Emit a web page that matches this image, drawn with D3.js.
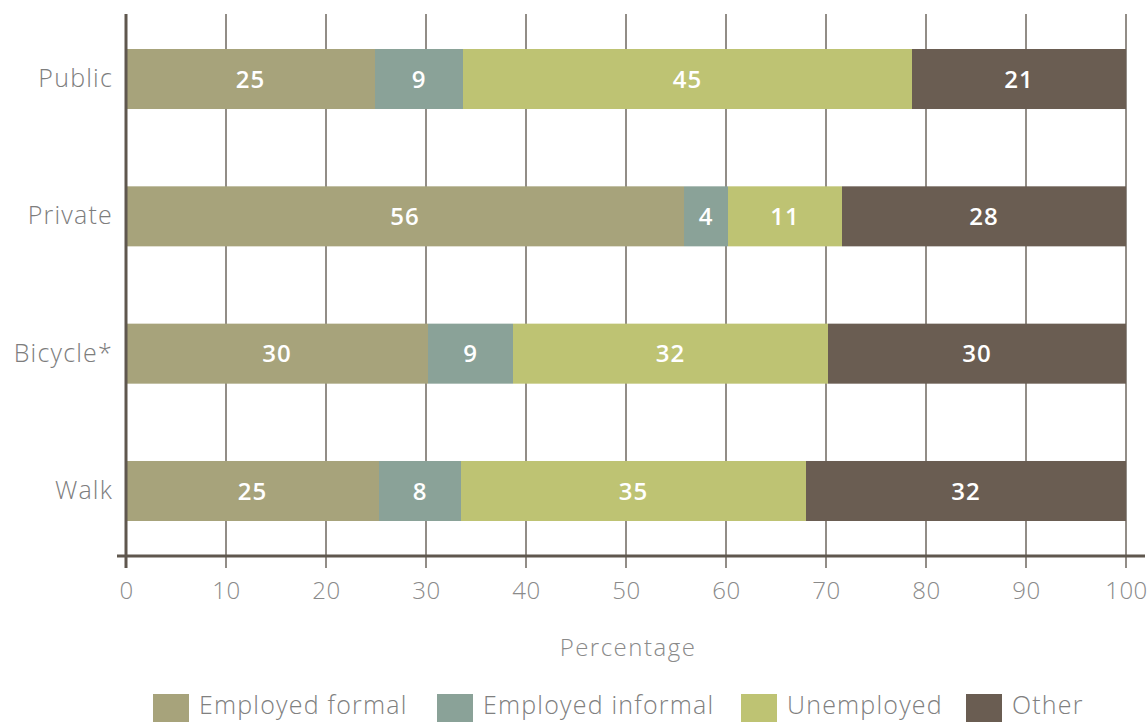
<!DOCTYPE html>
<html>
<head>
<meta charset="utf-8">
<script src="https://cdn.jsdelivr.net/npm/d3@7/dist/d3.min.js"></script>
<style>
  html, body { margin: 0; padding: 0; background: #ffffff; }
  svg { display: block; }
  text { font-family: "Open Sans", "Lato", "DejaVu Sans", sans-serif; }
</style>
</head>
<body>
<svg id="chart" width="1148" height="722"></svg>
<script>
// ---- data ----
const categories = ["Public", "Private", "Bicycle*", "Walk"];
const seriesNames = ["Employed formal", "Employed informal", "Unemployed", "Other"];
const employedFormal   = [24.9, 55.8, 30.2, 25.3];
const employedInformal = [8.8, 4.4, 8.5, 8.2];
const unemployed       = [44.9, 11.4, 31.5, 34.5];
const other            = [21.4, 28.4, 29.8, 32.0];
const xTicks = [0, 10, 20, 30, 40, 50, 60, 70, 80, 90, 100];
const xTitle = "Percentage";
const colors = ["#a7a37b", "#8aa298", "#bec373", "#6a5d52"];

// ---- build table ----
const seriesValues = [employedFormal, employedInformal, unemployed, other];
const rows = categories.map((c, i) => {
  const r = { cat: c };
  seriesNames.forEach((s, j) => { r[s] = seriesValues[j][i]; });
  return r;
});
const stacked = d3.stack().keys(seriesNames)(rows);

const svg = d3.select("#chart");
const x = d3.scaleLinear().domain([0, 100]).range([126, 1126]);
const y = d3.scaleBand().domain(categories).range([49, 521]).paddingInner(0.563).paddingOuter(0);
const color = d3.scaleOrdinal().domain(seriesNames).range(colors);

const gridTop = 14, gridBottom = 568, axisY = 556;

// gridlines
svg.append("g").selectAll("line").data(xTicks.filter(t => t !== 0)).join("line")
  .attr("x1", d => x(d)).attr("x2", d => x(d))
  .attr("y1", gridTop).attr("y2", gridBottom)
  .attr("stroke", "#6e675f").attr("stroke-width", 1.5);

// bars
const layers = svg.append("g").selectAll("g").data(stacked).join("g")
  .attr("fill", d => color(d.key));
layers.selectAll("rect").data(d => d).join("rect")
  .attr("x", d => x(d[0]))
  .attr("y", d => y(d.data.cat))
  .attr("width", d => x(d[1]) - x(d[0]))
  .attr("height", y.bandwidth());

// value labels
const labelG = svg.append("g");
stacked.forEach(layer => {
  labelG.selectAll(null).data(layer).join("text")
    .attr("x", d => (x(d[0]) + x(d[1])) / 2)
    .attr("y", d => y(d.data.cat) + y.bandwidth() / 2)
    .attr("dy", "0.36em")
    .attr("text-anchor", "middle")
    .attr("fill", "#ffffff")
    .attr("font-size", 24)
    .attr("font-weight", 600)
    .attr("letter-spacing", 1)
    .text(d => Math.round(d.data[layer.key]));
});

// y axis line
svg.append("line")
  .attr("x1", x(0)).attr("x2", x(0))
  .attr("y1", gridTop).attr("y2", gridBottom)
  .attr("stroke", "#5f574e").attr("stroke-width", 3);

// x axis line
svg.append("line")
  .attr("x1", 117).attr("x2", 1145)
  .attr("y1", axisY).attr("y2", axisY)
  .attr("stroke", "#5f574e").attr("stroke-width", 3);

// x tick labels
const xAxis = d3.axisBottom(x).tickValues(xTicks).tickSize(0).tickPadding(0);
const xg = svg.append("g").attr("transform", `translate(0, ${axisY + 27})`).call(xAxis);
xg.select(".domain").remove();
xg.selectAll("text")
  .attr("font-size", 24)
  .attr("font-weight", 300)
  .attr("fill", "#8a8a8a")
  .attr("letter-spacing", 0.5)
  .attr("font-family", "'Open Sans', 'Lato', sans-serif")
  .attr("dy", "0.71em")
  .attr("y", -1);

// y labels
const yAxis = d3.axisLeft(y).tickSize(0).tickPadding(0);
const yg = svg.append("g").attr("transform", "translate(113, 0)").call(yAxis);
yg.select(".domain").remove();
yg.selectAll("text")
  .attr("font-size", 25)
  .attr("font-weight", 300)
  .attr("fill", "#7d7d7d")
  .attr("letter-spacing", 1.2)
  .attr("font-family", "'Open Sans', 'Lato', sans-serif");

// x title
svg.append("text")
  .attr("x", 628).attr("y", 656)
  .attr("text-anchor", "middle")
  .attr("font-size", 24)
  .attr("font-weight", 300)
  .attr("letter-spacing", 1.5)
  .attr("fill", "#8a8a8a")
  .text(xTitle);

// legend
const legendX = [153, 437, 741, 966];
const lg = svg.append("g").selectAll("g").data(seriesNames).join("g")
  .attr("transform", (d, i) => `translate(${legendX[i]}, 694)`);
lg.append("rect").attr("width", 36).attr("height", 30).attr("fill", d => color(d));
lg.append("text")
  .attr("x", 46).attr("y", 11).attr("dy", "0.36em")
  .attr("font-size", 25)
  .attr("font-weight", 300)
  .attr("letter-spacing", 1.2)
  .attr("fill", "#808080")
  .text(d => d);
</script>
</body>
</html>
